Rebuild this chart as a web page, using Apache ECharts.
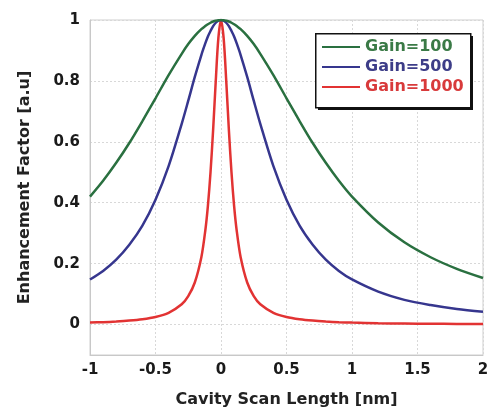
<!DOCTYPE html>
<html>
<head>
<meta charset="utf-8">
<script src="https://cdn.jsdelivr.net/npm/echarts@6/dist/echarts.min.js"></script>
<style>
html,body{margin:0;padding:0;background:#fff;}
#chart{width:494px;height:414px;}
</style>
</head>
<body>
<div id="chart"></div>
<script>
// Scan positions (nm)
var xValues = [-1, -0.9, -0.8, -0.7, -0.6, -0.5, -0.4, -0.3, -0.25, -0.2, -0.15, -0.12, -0.1, -0.08, -0.06, -0.04, -0.02, 0,
               0.02, 0.04, 0.06, 0.08, 0.1, 0.12, 0.15, 0.2, 0.25, 0.3, 0.4, 0.5, 0.6, 0.7, 0.8, 0.9, 1.0, 1.2, 1.4, 1.6, 1.8, 2.0];
// Gain=100
var gain100 = [0.420, 0.472, 0.531, 0.596, 0.668, 0.743, 0.819, 0.889, 0.921, 0.948, 0.970, 0.980, 0.986, 0.991, 0.995, 0.998, 0.999, 1.000,
               0.999, 0.998, 0.995, 0.991, 0.986, 0.980, 0.970, 0.948, 0.921, 0.889, 0.819, 0.743, 0.668, 0.596, 0.531, 0.472, 0.420, 0.335, 0.270, 0.221, 0.183, 0.153];
// Gain=500
var gain500 = [0.148, 0.176, 0.213, 0.262, 0.325, 0.410, 0.520, 0.659, 0.735, 0.813, 0.885, 0.923, 0.946, 0.964, 0.980, 0.991, 0.998, 1.000,
               0.998, 0.991, 0.980, 0.964, 0.946, 0.923, 0.885, 0.813, 0.735, 0.659, 0.520, 0.410, 0.325, 0.262, 0.213, 0.176, 0.148, 0.108, 0.081, 0.064, 0.051, 0.042];
// Gain=1000
var gain1000 = [0.0064, 0.0078, 0.0099, 0.0129, 0.0175, 0.025, 0.0385, 0.0664, 0.093, 0.138, 0.221, 0.308, 0.390, 0.500, 0.640, 0.800, 0.941, 1.000,
                0.941, 0.800, 0.640, 0.500, 0.390, 0.308, 0.221, 0.138, 0.093, 0.0664, 0.0385, 0.025, 0.0175, 0.0129, 0.0099, 0.0078, 0.0064, 0.0044, 0.0033, 0.0025, 0.0020, 0.0016];
var seriesNames = ['Gain=100', 'Gain=500', 'Gain=1000'];
var yTicks = [0, 0.2, 0.4, 0.6, 0.8, 1];

var lineColors = ['#2a7040', '#36368e', '#e23333'];
var textColors = ['#3a7a46', '#3d3d88', '#d83a3b'];

function pairs(ys){ return xValues.map(function(x,i){ return [x, ys[i]]; }); }
var allY = [gain100, gain500, gain1000];

var font = 'DejaVu Sans';
var chart = echarts.init(document.getElementById('chart'), null, {renderer:'canvas'});
chart.setOption({
  backgroundColor: '#ffffff',
  animation: false,
  grid: {left: 90, right: 11, top: 20, bottom: 59, show: true, borderColor: '#cfcfcf', borderWidth: 1, backgroundColor: '#fff'},
  graphic: [
    {type: 'rect', left: 318, top: 36, z: 50, shape: {width: 155, height: 74}, style: {fill: '#111'}},
    {type: 'rect', left: 315, top: 33, z: 51, shape: {width: 155, height: 74}, style: {fill: '#fff', stroke: '#111', lineWidth: 1.5}}
  ],
  legend: {
    orient: 'vertical',
    left: 315, top: 33, z: 60,
    padding: [6, 6, 8, 7],
    itemWidth: 38, itemHeight: 14, itemGap: 4,
    textStyle: {fontFamily: font, fontWeight: 'bold', fontSize: 16},
    data: seriesNames.map(function(n, i){
      return {name: n, icon: 'path://M0,0L38,0L38,2L0,2Z', textStyle: {color: textColors[i]}};
    })
  },
  xAxis: {
    type: 'value', min: -1, max: 2, interval: 0.5,
    name: 'Cavity Scan Length [nm]', nameLocation: 'middle', nameGap: 37,
    nameTextStyle: {fontFamily: font, fontWeight: 'bold', fontSize: 16, color: '#222'},
    axisLine: {show: true, onZero: false, lineStyle: {color: '#c8c8c8'}},
    axisTick: {show: false},
    axisLabel: {fontFamily: font, fontWeight: 'bold', fontSize: 15, color: '#1a1a1a', margin: 8},
    splitLine: {show: true, lineStyle: {color: '#d8d8d8', type: [2, 2]}}
  },
  yAxis: {
    type: 'value', min: -0.1, max: 1,
    name: 'Enhancement Factor [a.u]', nameLocation: 'middle', nameGap: 57,
    nameTextStyle: {fontFamily: font, fontWeight: 'bold', fontSize: 16, color: '#222'},
    axisLine: {show: true, onZero: false, lineStyle: {color: '#c8c8c8'}},
    axisTick: {show: false, customValues: yTicks},
    axisLabel: {fontFamily: font, fontWeight: 'bold', fontSize: 15, color: '#1a1a1a', margin: 10, customValues: yTicks},
    splitLine: {show: true, lineStyle: {color: '#d8d8d8', type: [2, 2]}}
  },
  series: seriesNames.map(function(n, i){
    return {
      name: n, type: 'line', data: pairs(allY[i]),
      smooth: 0.3, symbol: 'none', showSymbol: false,
      lineStyle: {color: lineColors[i], width: 2.5},
      itemStyle: {color: lineColors[i]},
      z: 3 - i + 2
    };
  })
});
</script>
</body>
</html>
